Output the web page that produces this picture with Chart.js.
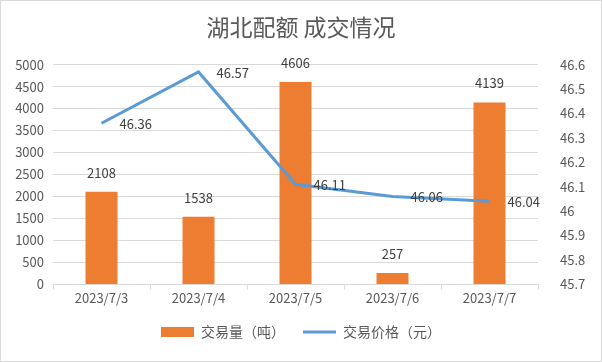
<!DOCTYPE html>
<html>
<head>
<meta charset="utf-8">
<script src="https://cdn.jsdelivr.net/npm/chart.js@4/dist/chart.umd.min.js"></script>
<style>
  html, body { margin: 0; padding: 0; background: #fff; }
  #wrap { width: 600px; height: 360px; border: 1px solid #d9d9d9; position: relative; }
</style>
</head>
<body>
<div id="wrap"><canvas id="chart" width="600" height="360"></canvas></div>
<script>
const fechas = ['2023/7/3', '2023/7/4', '2023/7/5', '2023/7/6', '2023/7/7'];
const volumen = [2108, 1538, 4606, 257, 4139];
const precio = [46.36, 46.57, 46.11, 46.06, 46.04];

const fuente = '"Noto Sans CJK SC", "DejaVu Sans", sans-serif';
const gris = '#595959';

// etiquetas de datos encima de barras y a la derecha de puntos
const etiquetas = {
    id: 'etiquetas',
    afterDatasetsDraw(chart) {
        const ctx = chart.ctx;
        ctx.save();
        ctx.fillStyle = '#404040';
        ctx.font = '13px ' + fuente;
        chart.getDatasetMeta(0).data.forEach((bar, i) => {
            ctx.textAlign = 'center';
            ctx.textBaseline = 'middle';
            ctx.fillText(volumen[i], bar.x, bar.y - 19);
        });
        chart.getDatasetMeta(1).data.forEach((p, i) => {
            ctx.textAlign = 'left';
            ctx.textBaseline = 'middle';
            ctx.fillText(precio[i].toFixed(2), p.x + 18, p.y + 1);
        });
        ctx.restore();
    }
};

const ctx = document.getElementById('chart').getContext('2d');
new Chart(ctx, {
    data: {
        labels: fechas,
        datasets: [{
            type: 'bar',
            label: '交易量（吨）',
            data: volumen,
            backgroundColor: '#ed7d31',
            borderWidth: 0,
            barPercentage: 0.66,
            categoryPercentage: 0.5,
            yAxisID: 'y',
            order: 2
        }, {
            type: 'line',
            label: '交易价格（元）',
            data: precio,
            borderColor: '#5b9bd5',
            backgroundColor: '#5b9bd5',
            borderWidth: 3,
            pointRadius: 0,
            tension: 0,
            yAxisID: 'y1',
            order: 1
        }]
    },
    options: {
        responsive: false,
        animation: false,
        layout: { padding: { top: 10, left: 0, right: 0, bottom: 12 } },
        plugins: {
            title: {
                display: true,
                text: '湖北配额 成交情况',
                color: gris,
                font: { family: fuente, size: 23, weight: 'normal' },
                padding: { top: 2, bottom: 24 }
            },
            legend: {
                position: 'bottom',
                labels: {
                    usePointStyle: true,
                    pointStyleWidth: 33,
                    boxHeight: 10,
                    color: gris,
                    font: { family: fuente, size: 14 },
                    padding: 18,
                    generateLabels(chart) {
                        const base = Chart.defaults.plugins.legend.labels.generateLabels(chart);
                        base.forEach(it => {
                            it.pointStyle = it.datasetIndex === 0 ? 'rect' : 'line';
                        });
                        return base.sort((a, b) => a.datasetIndex - b.datasetIndex);
                    }
                }
            },
            tooltip: { enabled: false }
        },
        scales: {
            x: {
                grid: { display: true, drawOnChartArea: false, offset: true, tickLength: 5, color: '#d9d9d9' },
                border: { display: true, color: '#d9d9d9' },
                ticks: { color: gris, font: { family: fuente, size: 13 }, padding: 1 }
            },
            y: {
                position: 'left',
                min: 0,
                max: 5000,
                afterFit(scale) { scale.width = 52; },
                ticks: {
                    stepSize: 500,
                    color: gris,
                    font: { family: fuente, size: 13 },
                    padding: 9,
                    callback: v => String(v)
                },
                grid: { color: '#d9d9d9', drawTicks: false },
                border: { display: false }
            },
            y1: {
                position: 'right',
                min: 45.7,
                max: 46.6,
                afterFit(scale) { scale.width = 63; },
                ticks: {
                    stepSize: 0.1,
                    color: gris,
                    font: { family: fuente, size: 13 },
                    padding: 22,
                    callback: v => String(parseFloat(v.toFixed(1)))
                },
                grid: { drawOnChartArea: false, drawTicks: false },
                border: { display: false }
            }
        }
    },
    plugins: [etiquetas]
});
</script>
</body>
</html>
